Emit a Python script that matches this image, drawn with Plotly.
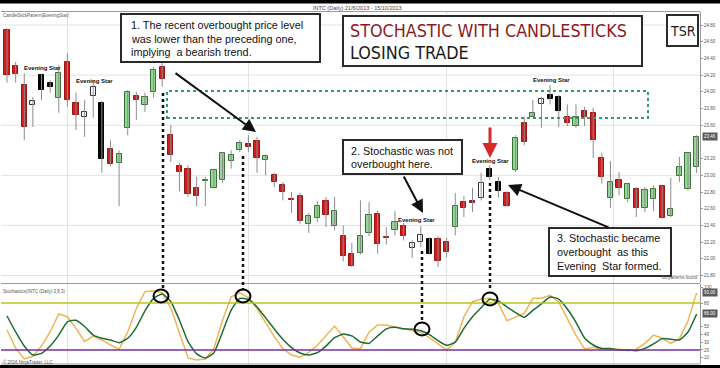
import plotly.graph_objects as go

# ---------------- data ----------------
bar_index = list(range(81))
opens = [24.74, 24.31, 24.08, 23.84, 24.20, 24.11, 23.93, 24.36, 23.87, 23.70,
         23.95, 23.87, 23.31, 23.15, 23.57, 23.95, 23.84, 24.00, 24.30, 23.48,
         23.11, 23.08, 22.85, 22.93, 22.85, 22.94, 23.17, 23.30, 23.37, 23.41,
         23.18, 23.00, 22.88, 22.72, 22.75, 22.42, 22.49, 22.69, 22.39, 22.27,
         22.06, 22.07, 22.31, 22.54, 22.26, 22.34, 22.39, 22.13, 22.20, 22.24,
         22.24, 22.20, 22.38, 22.68, 22.69, 22.73, 23.08, 22.92, 22.79, 23.06,
         23.63, 23.70, 23.85, 23.96, 23.94, 23.70, 23.59, 23.77, 23.75, 23.21,
         22.73, 22.94, 22.72, 22.84, 22.61, 22.72, 22.87, 22.51, 22.99, 22.84,
         23.10]
highs = [24.76, 24.36, 24.22, 23.94, 24.22, 24.14, 24.32, 24.46, 23.99, 23.90,
         24.14, 23.89, 23.42, 23.30, 24.02, 24.00, 23.99, 24.30, 24.36, 23.60,
         23.15, 23.12, 22.98, 22.98, 23.08, 23.28, 23.30, 23.42, 23.48, 23.46,
         23.25, 23.03, 22.92, 22.80, 22.79, 22.55, 22.69, 22.74, 22.74, 22.40,
         22.19, 22.70, 22.68, 22.58, 22.38, 22.57, 22.43, 22.22, 22.39, 22.26,
         22.27, 22.25, 22.79, 22.75, 22.85, 23.03, 23.12, 22.98, 22.81, 23.48,
         23.70, 23.90, 23.94, 24.08, 23.96, 23.85, 23.85, 23.82, 23.81, 23.27,
         23.17, 23.04, 22.91, 22.86, 22.86, 22.88, 22.88, 22.97, 23.22, 23.28,
         23.48]
lows = [24.11, 24.11, 23.42, 23.58, 23.90, 23.99, 23.75, 23.82, 23.54, 23.46,
        23.69, 23.03, 23.11, 22.63, 23.48, 23.66, 23.76, 23.93, 24.06, 23.16,
        22.81, 22.74, 22.63, 22.63, 22.84, 22.91, 23.08, 23.28, 23.28, 23.03,
        23.00, 22.86, 22.70, 22.55, 22.42, 22.31, 22.44, 22.38, 22.34, 21.97,
        21.90, 22.05, 22.27, 22.06, 22.17, 22.28, 22.22, 22.01, 22.14, 22.05,
        21.90, 22.02, 22.28, 22.50, 22.56, 22.70, 22.94, 22.73, 22.62, 23.04,
        23.36, 23.69, 23.57, 23.85, 23.58, 23.59, 23.57, 23.59, 23.21, 22.90,
        22.61, 22.76, 22.68, 22.50, 22.56, 22.57, 22.48, 22.50, 22.92, 22.82,
        23.03]
closes = [24.20, 24.21, 23.58, 23.89, 24.02, 24.06, 24.22, 23.90, 23.72, 23.76,
          24.06, 23.20, 23.14, 23.26, 24.00, 23.90, 23.94, 24.26, 24.15, 23.24,
          23.04, 22.78, 22.75, 22.94, 23.06, 23.27, 23.24, 23.39, 23.34, 23.21,
          23.23, 22.92, 22.80, 22.71, 22.45, 22.51, 22.63, 22.52, 22.57, 22.03,
          21.91, 22.27, 22.52, 22.18, 22.25, 22.44, 22.27, 22.19, 22.28, 22.06,
          21.97, 22.08, 22.63, 22.61, 22.67, 22.91, 22.98, 22.81, 22.63, 23.45,
          23.40, 23.75, 23.91, 23.91, 23.77, 23.63, 23.70, 23.70, 23.42, 22.98,
          22.92, 22.85, 22.90, 22.61, 22.82, 22.84, 22.49, 22.60, 23.10, 23.27,
          23.46]
# bars that belong to a detected Evening Star pattern (drawn white / black)
pattern_bars = [3, 4, 5, 9, 10, 11, 47, 48, 49, 55, 56, 57, 62, 63, 64]
# Stochastics (3,8,3): %K (orange) and %D (green)
stoch_k = [45.5, 22.5, 8.5, 12, 25, 43, 66, 62.5, 47.7, 30.6,
           38, 32.8, 26.4, 21, 43, 73, 94.5, 95.7, 93, 73.6,
           41.6, 9.8, 7.2, 8.5, 22, 58, 88, 93, 87, 73,
           55, 37, 21.7, 13.6, 10.7, 17, 26, 39, 50.6, 37,
           22.5, 21.7, 43, 52, 52, 49.4, 47, 45.5, 42.5, 35.7,
           27.7, 20, 30, 62.5, 81.7, 85, 86, 79.6, 57.4, 61.7,
           66.8, 86, 86, 89.8, 81.3, 60, 38.7, 21.3, 23.4, 21,
           20, 21, 19, 21, 28.5, 39, 35, 28.5, 34.5, 57.4,
           93]
stoch_d = [63.4, 43, 25, 13.6, 15.7, 25, 39, 56, 58, 50,
           39, 35, 32.8, 29.4, 35, 49, 70, 86, 91.5, 81.7,
           58, 30.6, 15, 9.8, 16.6, 43, 71, 86, 84.7, 75,
           61, 46.8, 33.6, 23, 16.2, 13.6, 16.6, 25, 35.7, 40.4,
           38, 30.2, 28.5, 38, 47, 49, 47, 46.5, 44.5, 39.7,
           32, 26, 30, 47.7, 62.5, 74, 84.7, 82.6, 75, 67.6,
           61.7, 70.6, 79, 87.7, 85, 72.3, 55.4, 35.3, 26.4, 22,
           22, 20, 20, 19, 22, 27.7, 34.5, 33.7, 32.8, 43,
           66]
overbought_level = 80
oversold_level = 20
month_starts = [7, 28, 51, 70.3]
price_grid = [21.8, 22.4, 23.0, 23.6, 24.2, 24.8]
price_ticks = [21.8, 22.0, 22.2, 22.4, 22.6, 22.8, 23.0, 23.2, 23.6, 23.8, 24.0, 24.2, 24.4, 24.6, 24.8]
stoch_ticks = [10, 20, 30, 40, 50, 80, 100]

# ---------------- geometry helpers (pixel -> paper) ----------------
W, H = 720, 368
ML, MR, MT, MB = 1, 20, 12, 4
PW, PH = W - ML - MR, H - MT - MB


def fx(px):
    return (px - ML) / PW


def fy(py):
    return (H - MB - py) / PH


SANS = "Liberation Sans, Arial, sans-serif"
NARROW = "Liberation Sans Narrow, Arial Narrow, DejaVu Sans Condensed, Liberation Sans, sans-serif"

fig = go.Figure()

# wicks
wx, wy = [], []
for i, h, l in zip(bar_index, highs, lows):
    wx += [i, i, None]
    wy += [l, h, None]
fig.add_trace(go.Scatter(x=wx, y=wy, mode="lines", line=dict(color="#8c8c8c", width=1),
                         hoverinfo="skip", showlegend=False, xaxis="x", yaxis="y"))


def style_of(i):
    up = closes[i] >= opens[i]
    if i in pattern_bars:
        return "pat_up" if up else "pat_down"
    return "up" if up else "down"


body_styles = {
    "up": ("#93d893", "#3b6e3b"),
    "down": ("#cf1d1d", "#9c1414"),
    "pat_up": ("#ffffff", "#333333"),
    "pat_down": ("#000000", "#000000"),
}
for key, (fill, edge) in body_styles.items():
    xs = [i for i in bar_index if style_of(i) == key]
    fig.add_trace(go.Bar(
        x=xs,
        base=[min(opens[i], closes[i]) for i in xs],
        y=[abs(closes[i] - opens[i]) for i in xs],
        width=0.6,
        marker=dict(color=fill, line=dict(color=edge, width=1)),
        hoverinfo="skip", showlegend=False, xaxis="x", yaxis="y"))

# stochastic
fig.add_trace(go.Scatter(x=bar_index, y=stoch_k, mode="lines",
                         line=dict(color="#efb554", width=1.5),
                         showlegend=False, xaxis="x2", yaxis="y2"))
fig.add_trace(go.Scatter(x=bar_index, y=stoch_d, mode="lines",
                         line=dict(color="#1f6b32", width=1.5, shape="spline", smoothing=0.5),
                         showlegend=False, xaxis="x2", yaxis="y2"))

shapes = []
for g in price_grid:
    shapes.append(dict(type="line", xref="paper", yref="y", x0=0, x1=1, y0=g, y1=g,
                       line=dict(color="#e3e3e3", width=1), layer="below"))
shapes.append(dict(type="line", xref="paper", yref="y2", x0=0, x1=1, y0=overbought_level,
                   y1=overbought_level, line=dict(color="#b9c41a", width=1.5)))
shapes.append(dict(type="line", xref="paper", yref="y2", x0=0, x1=1, y0=oversold_level,
                   y1=oversold_level, line=dict(color="#7a2e9c", width=1.5)))
for py_ in (11.5, 283.5, 364):
    shapes.append(dict(type="line", xref="paper", yref="paper", x0=0, x1=fx(700),
                       y0=fy(py_), y1=fy(py_), line=dict(color="#9a9a9a", width=1)))
shapes.append(dict(type="rect", xref="paper", yref="paper", x0=fx(-5), x1=fx(725),
                   y0=fy(3.5), y1=fy(-5), fillcolor="black", line=dict(width=0)))
shapes.append(dict(type="rect", xref="paper", yref="paper", x0=fx(-5), x1=fx(725),
                   y0=fy(373), y1=fy(365), fillcolor="black", line=dict(width=0)))
shapes.append(dict(type="rect", xref="paper", yref="paper", x0=fx(167), x1=fx(648),
                   y0=fy(118), y1=fy(91), line=dict(color="#2f9e6c", width=2, dash="dot")))
for x_, y0_, y1_ in [(163, 93, 289), (243, 156, 289), (422, 251, 322), (490, 183, 291)]:
    shapes.append(dict(type="line", xref="paper", yref="paper", x0=fx(x_), x1=fx(x_),
                       y0=fy(y0_), y1=fy(y1_), line=dict(color="#111", width=2.5, dash="dot")))
for cx, cy in [(161, 296), (243, 296), (422, 329), (490, 299)]:
    shapes.append(dict(type="circle", xref="paper", yref="paper", x0=fx(cx - 7.5), x1=fx(cx + 7.5),
                       y0=fy(cy + 6.5), y1=fy(cy - 6.5), line=dict(color="#000", width=2)))
for x0_, y0_, x1_, y1_ in [(121, 14, 320, 62), (343, 140, 462, 174), (549, 228, 671, 276),
                           (343, 16, 642, 66), (667, 15, 698, 46)]:
    shapes.append(dict(type="rect", xref="paper", yref="paper", x0=fx(x0_), x1=fx(x1_),
                       y0=fy(y1_), y1=fy(y0_), fillcolor="white",
                       line=dict(color="#2a2a2a", width=2)))


def text(x, y, s, size=11, color="#111", anchor="left", family=SANS):
    fig.add_annotation(x=fx(x), y=fy(y), xref="paper", yref="paper", text=s, showarrow=False,
                       xanchor=anchor, yanchor="middle", font=dict(size=size, color=color, family=family),
                       borderpad=0)


for y_, s in [(25, "1. The recent overbought price level"), (38.5, "was lower than the preceding one,"),
              (52, "implying  a bearish trend.")]:
    text(130, y_, s, size=10.8)
for y_, s in [(151, "2. Stochastic was not"), (164, "overbought here.")]:
    text(350, y_, s, size=10.8)
for y_, s in [(238, "3. Stochastic became"), (252, "overbought  as this"), (266, "Evening  Star formed.")]:
    text(556, y_, s, size=10.8)
text(349, 30, "STOCHASTIC WITH CANDLESTICKS", size=17.8, color="#8b1b1f", family=NARROW)
text(349, 52, "LOSING TRADE", size=17.8, color="#1a1a1a", family=NARROW)
text(682.5, 31, "TSR", size=14, color="#1a1a1a", anchor="center", family=NARROW)

for cx, cy in [(42, 68), (94, 81), (416, 220), (490, 161), (551, 80)]:
    text(cx, cy, "<b>Evening Star</b>", size=6, color="#111", anchor="center")

text(2, 16, "CandleStickPattern(EveningStar)", size=4.5, color="#555")
text(2, 291, "Stochastics(INTC (Daily) 3,8,3)", size=4.5, color="#555")
text(2, 361.5, "© 2016 NinjaTrader, LLC", size=4.5, color="#555")
text(699, 277.5, "88 patterns found", size=4.5, color="#555", anchor="right")
text(357, 7.5, "INTC (Daily) 21/6/2013 - 15/10/2013", size=5.5, color="#444", anchor="center")

for val, yref in [(closes[-1], "y"), (stoch_k[-1], "y2"), (stoch_d[-1], "y2")]:
    fig.add_annotation(x=fx(702), y=val, xref="paper", yref=yref, text=f"{val:.2f}", showarrow=False,
                       xanchor="left", yanchor="middle", bgcolor="#5a5a5a", borderpad=1,
                       font=dict(size=4.5, color="white", family=SANS))


def arrow(hx, hy, tx, ty, color="#111", width=2, size=1.3):
    fig.add_annotation(x=fx(hx), y=fy(hy), xref="paper", yref="paper", ax=tx - hx, ay=ty - hy,
                       axref="pixel", ayref="pixel", text="", showarrow=True, arrowhead=2,
                       arrowsize=size, arrowwidth=width, arrowcolor=color)


arrow(256, 132, 174, 72)
arrow(423, 213, 403, 175)
arrow(508, 185, 610, 228)
arrow(490, 158, 490, 126, color="#d42a2a", width=3, size=1)

axis_common = dict(showticklabels=False, ticks="", showgrid=True, gridcolor="#e3e3e3",
                   zeroline=False, showline=False, range=[-0.70, 80.39], tickvals=month_starts)
fig.update_layout(
    width=W, height=H, margin=dict(l=ML, r=MR, t=MT, b=MB),
    paper_bgcolor="white", plot_bgcolor="white", showlegend=False,
    barmode="overlay", bargap=0, shapes=shapes,
    xaxis=dict(domain=[0, 1], anchor="y", **axis_common),
    xaxis2=dict(domain=[0, 1], anchor="y2", matches="x", **axis_common),
    yaxis=dict(domain=[fy(283), 1], anchor="x", side="right", range=[21.71, 24.956],
               tickvals=price_ticks, tickformat=".2f", ticks="outside", ticklen=2, tickcolor="#999",
               tickfont=dict(size=4.5, color="#555", family=SANS), showgrid=False, zeroline=False,
               showline=True, linecolor="#9a9a9a", linewidth=1),
    yaxis2=dict(domain=[0, fy(284)], anchor="x2", side="right", range=[2.1, 104.3],
                tickvals=stoch_ticks, ticks="outside", ticklen=2,
                tickcolor="#999", tickfont=dict(size=4.5, color="#555", family=SANS), showgrid=False,
                zeroline=False, showline=True, linecolor="#9a9a9a", linewidth=1),
)

fig.write_html("out.html", config={"displayModeBar": False},
               post_script="document.body.style.margin='0px';document.body.style.padding='0px';"
                           "document.body.style.overflow='hidden';")
